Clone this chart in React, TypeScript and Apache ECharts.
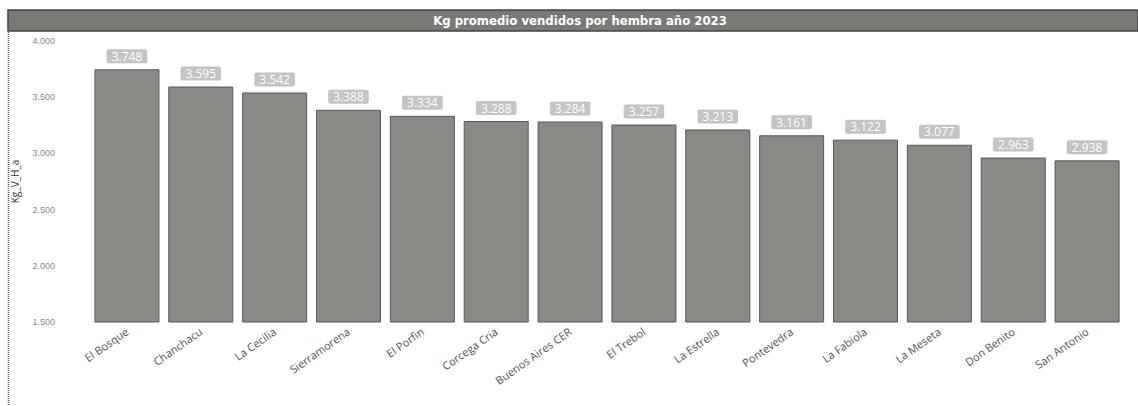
import React, { useEffect, useRef } from "react";
import * as echarts from "echarts";

const title = "Kg promedio vendidos por hembra año 2023";
const yAxisName = "Kg_V_H_a";
const categories = [
  "El Bosque",
  "Chanchacu",
  "La Cecilia",
  "Sierramorena",
  "El Porfin",
  "Corcega Cria",
  "Buenos Aires CER",
  "El Trebol",
  "La Estrella",
  "Pontevedra",
  "La Fabiola",
  "La Meseta",
  "Don Benito",
  "San Antonio",
];
const values = [3748, 3595, 3542, 3388, 3334, 3288, 3284, 3257, 3213, 3161, 3122, 3077, 2963, 2938];
const yMin = 1500;
const yMax = 4000;
const yStep = 500;

const fmt = (v: number) => {
  const s = String(Math.round(v));
  return s.replace(/\B(?=(\d{3})+(?!\d))/g, ".");
};

export default function App() {
  const ref = useRef<HTMLDivElement>(null);
  useEffect(() => {
    if (!ref.current) return;
    const chart = echarts.init(ref.current, null, { renderer: "svg" });
    chart.setOption({
      animation: false,
      backgroundColor: "#ffffff",
      grid: { left: 90, right: 14, top: 41, bottom: 84 },
      graphic: [
        {
          type: "rect",
          shape: { x: 8, y: 10, width: 1130, height: 21 },
          style: { fill: "#777a75", stroke: "#444444", lineWidth: 1.5 },
          z: 1,
        },
        {
          type: "text",
          x: 580,
          y: 20.5,
          style: {
            text: title,
            fill: "#ffffff",
            font: "bold 13px 'Liberation Sans Narrow', 'DejaVu Sans Condensed', sans-serif",
            align: "center",
            verticalAlign: "middle",
          },
          z: 2,
        },
        {
          type: "line",
          shape: { x1: 8.5, y1: 10, x2: 8.5, y2: 406 },
          style: { stroke: "#555555", lineWidth: 1.5, lineDash: [1, 1] },
        },
      ],
      xAxis: {
        type: "category",
        data: categories,
        axisLine: { show: false },
        axisTick: { show: false },
        axisLabel: {
          rotate: 35,
          color: "#555555",
          fontSize: 11,
          fontFamily: "'Open Sans', sans-serif",
          margin: 8,
          interval: 0,
        },
      },
      yAxis: {
        type: "value",
        min: yMin,
        max: yMax,
        interval: yStep,
        name: yAxisName,
        nameLocation: "middle",
        nameGap: 70,
        nameRotate: 90,
        nameTextStyle: { color: "#333333", fontSize: 10, fontFamily: "'Open Sans', sans-serif" },
        splitLine: { show: false },
        axisLine: { show: false },
        axisTick: { show: false },
        axisLabel: {
          color: "#888888",
          fontSize: 9,
          margin: 35,
          formatter: (v: number) => fmt(v),
        },
      },
      series: [
        {
          type: "bar",
          data: values,
          barCategoryGap: "12%",
          itemStyle: { color: "#878a85", borderColor: "#555753", borderWidth: 1 },
          label: {
            show: true,
            position: "top",
            distance: 6,
            formatter: (p: any) => fmt(p.value),
            color: "#ffffff",
            fontSize: 12,
            fontFamily: "'Open Sans', sans-serif",
            backgroundColor: "#c4c4c4",
            padding: [1, 5],
            borderRadius: 2,
          },
        },
      ],
    });
    return () => chart.dispose();
  }, []);
  return (
    <div
      ref={ref}
      style={{ position: "fixed", left: 0, top: 0, width: 1138, height: 406 }}
    />
  );
}
